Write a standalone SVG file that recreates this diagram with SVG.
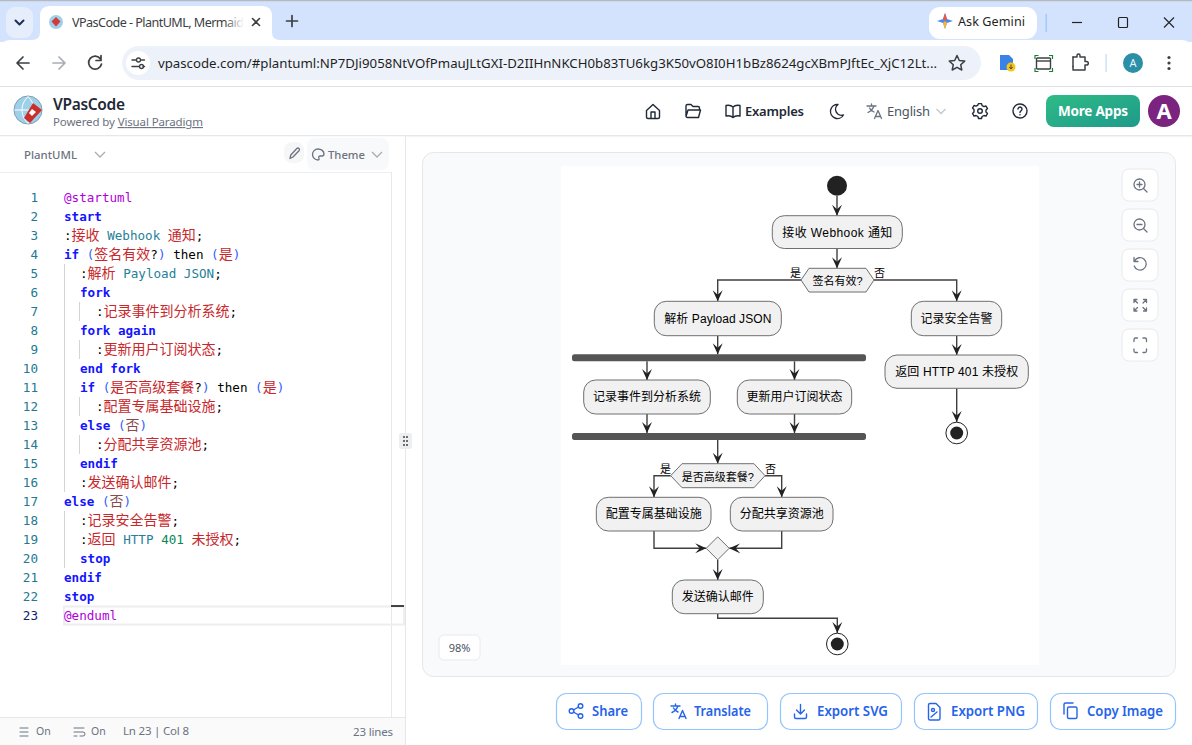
<svg xmlns="http://www.w3.org/2000/svg" width="1192" height="745" viewBox="0 0 1192 745">
<style>
.ui{font-family:"Noto Sans","Open Sans",sans-serif}
.code{font-family:"DejaVu Sans Mono","Noto Sans CJK SC",monospace;font-size:12.6px;fill:#000}
.ln{font-family:"DejaVu Sans Mono",monospace;font-size:12.6px;fill:#237893;text-anchor:end}
.k{fill:#1414ff;font-weight:700}.p{fill:#2f5cff}.r{fill:#c8282c;font-family:"Noto Sans CJK SC",sans-serif;font-size:14px}.g{fill:#8a4a4a;font-family:"Noto Sans CJK SC",sans-serif;font-size:14px}.t{fill:#267f99}.n{fill:#098658}.m{fill:#af00db}
.guide{stroke:#d4d4d4;stroke-width:1;fill:none}
.ic{fill:none;stroke:#3c4043;stroke-width:1.5;stroke-linecap:round;stroke-linejoin:round}
.ih{fill:none;stroke:#1f2937;stroke-width:1.4;stroke-linecap:round;stroke-linejoin:round}
.it{fill:none;stroke:#6b7280;stroke-width:1.3;stroke-linecap:round;stroke-linejoin:round}
.ib{fill:none;stroke:#2563eb;stroke-width:1.4;stroke-linecap:round;stroke-linejoin:round}
.tool{fill:#fff;stroke:#e8eaee;stroke-width:1}
.btn{fill:#fff;stroke:#93c5fd;stroke-width:1.2}
.btxt{font-family:"Noto Sans","Open Sans",sans-serif;font-size:13.5px;font-weight:600;fill:#2563eb}
.act{fill:#f1f1f1;stroke:#6f6f6f;stroke-width:1}
.dt{font-family:"Liberation Sans","Noto Sans CJK SC",sans-serif;font-size:12px;fill:#000;text-anchor:middle}
.ds{font-family:"Liberation Sans","Noto Sans CJK SC",sans-serif;font-size:11px;fill:#000}
.bar{fill:#555}
.con{fill:none;stroke:#3f3f3f;stroke-width:1.4}
.foot{font-family:"Noto Sans",sans-serif;font-size:10.5px;fill:#6b7280}
</style>
<defs>
<marker id="arr" markerUnits="userSpaceOnUse" markerWidth="13" markerHeight="12" refX="11" refY="5.5" orient="auto" viewBox="0 0 13 11"><path d="M0 0.5L11 5.5L0 10.5L4.500 5.500Z" fill="#222"/></marker>
<linearGradient id="ga" x1="0" y1="0" x2="1" y2="1"><stop offset="0" stop-color="#2fbb85"/><stop offset="1" stop-color="#1e9a8c"/></linearGradient>
<linearGradient id="fade" x1="0" x2="1"><stop offset="0" stop-color="#fff" stop-opacity="0"/><stop offset="1" stop-color="#fff"/></linearGradient>
</defs>

<g id="browser-chrome">
<rect width="1192" height="745" fill="#fff"/>
<rect width="1192" height="42" fill="#d3e3fd"/>
<rect width="1192" height="1.2" fill="#b5b8bd"/>
<rect x="6" y="7" width="27" height="31" rx="9" fill="#e6eefc"/>
<path d="M15.500 20.500l4 4 4-4" fill="none" stroke="#1f2f55" stroke-width="2" stroke-linecap="round" stroke-linejoin="round"/>
<path d="M32 40q8 0 8-8V16q0-10 10-10H262q10 0 10 10V32q0 8 8 8Z" fill="#fff"/>
<circle cx="56" cy="22" r="7" fill="#9fd0ea"/><path d="M56 17l4.500 4.500-4.500 5-4.500-5Z" fill="#d23a3a"/>
<text class="ui" x="72" y="27" font-size="12.6" fill="#3c4043" textLength="172">VPasCode - PlantUML, Mermaid</text>
<rect x="224" y="10" width="20" height="24" fill="url(#fade)"/>
<path class="ic" d="M252.500 18.500l7 7M259.500 18.500l-7 7" style="stroke-width:1.600"/>
<path class="ic" d="M292 15.500v11M286.500 21h11" style="stroke-width:1.700"/>
<rect x="929" y="7" width="108" height="32" rx="11" fill="#fff"/>
<path d="M945 13l2 6 6 2-6 2-2 6-2-6-6-2 6-2Z" fill="#4a8af4"/><path d="M945 13l2 6-2 2-2-2Z" fill="#e8594a"/><path d="M945 29l-2-6 2-2 2 2Z" fill="#f5b82e"/>
<text class="ui" x="958" y="26" font-size="12.600" fill="#1f1f1f" textLength="67">Ask Gemini</text>
<rect x="1045.500" y="14" width="1.500" height="18" fill="#a8c7fa"/>
<path d="M1072 22.500h10" fill="none" stroke="#222" stroke-width="1.200"/>
<rect x="1118.500" y="17.500" width="9" height="10" rx="1" fill="none" stroke="#222" stroke-width="1.200"/>
<path d="M1164 17.500l10 10M1174 17.500l-10 10" fill="none" stroke="#222" stroke-width="1.100"/>
<path d="M0 86V50q0-10 10-10H1182q10 0 10 10V86Z" fill="#fff"/>
<rect y="86" width="1192" height="1" fill="#dcdfe3"/>
<path class="ic" d="M29 63H17.500M23 57l-6 6 6 6" style="stroke-width:1.700"/>
<path class="ic" d="M53 63h11.500M59 57l6 6-6 6" style="stroke:#a9adb3;stroke-width:1.700"/>
<path class="ic" d="M100.500 59a6.500 6.500 0 1 0 1 5M101 55.500v5h-5" style="stroke-width:1.700"/>
<rect x="122" y="46" width="859" height="34" rx="17" fill="#edf2fa"/>
<circle cx="138" cy="63" r="12" fill="#fff"/>
<path class="ic" d="M132 60h4M141.500 60h3M132 66.500h7M143 66.500h1.500" style="stroke-width:1.400"/><circle class="ic" cx="138.500" cy="60" r="2" style="stroke-width:1.300"/><circle class="ic" cx="141.500" cy="66.500" r="2" style="stroke-width:1.300"/>
<text class="ui" x="158" y="68" font-size="13.300" fill="#1f1f1f" textLength="779" lengthAdjust="spacingAndGlyphs">vpascode.com/#plantuml:NP7DJi9058NtVOfPmauJLtGXI-D2IIHnNKCH0b83TU6kg3K50vO8I0H1bBz8624gcXBmPJftEc_XjC12Lt...</text>
<path class="ic" d="M957 55.500l2.300 5 5.400.6-4 3.600 1.100 5.300-4.800-2.700-4.800 2.700 1.100-5.300-4-3.600 5.400-.6Z"/>
<path d="M1000 55h9l4 4v11h-13Z" fill="#3b82e8"/><circle cx="1011" cy="67" r="4.500" fill="#f5c518"/><path d="M1011 64.500v4M1009.300 67l1.700 2 1.700-2" fill="none" stroke="#444" stroke-width="1"/>
<rect x="1036.500" y="58" width="14" height="11" rx="1" fill="none" stroke="#3c4043" stroke-width="1.400"/><path d="M1036.500 61h14" stroke="#3c4043" stroke-width="1.400"/><path d="M1035 59v-3.500h3.500M1049 55.500h3.500v3.500M1035 68v3.500h3.500M1049 71.500h3.500V68" fill="none" stroke="#188038" stroke-width="1.200"/>
<path class="ic" d="M1073 57h4v-1.500a1.500 1.500 0 0 1 3 0V57h5v4.500h1.500a1.800 1.800 0 0 1 0 3.600H1085V70h-12v-3.500"/><path class="ic" d="M1073 57v9.500"/>
<rect x="1105.500" y="54" width="1.200" height="18" fill="#c7d7f2"/>
<circle cx="1133" cy="63" r="10" fill="#2b8fa8"/><text class="ui" x="1133" y="67" font-size="11" fill="#e8f6fa" text-anchor="middle">A</text>
<circle cx="1169" cy="57.500" r="1.600" fill="#3c4043"/><circle cx="1169" cy="63" r="1.600" fill="#3c4043"/><circle cx="1169" cy="68.500" r="1.600" fill="#3c4043"/>
</g>

<g id="app-header">
<rect y="87" width="1192" height="48" fill="#fff"/>
<rect y="135" width="1192" height="1.500" fill="#e5e7eb"/>
<circle cx="28" cy="110" r="14" fill="#9fd0ea" stroke="#7f9fb2" stroke-width="1"/>
<path d="M14.500 110h27M28 96.500c-8 8-8 19 0 27M28 96.500c8 8 8 19 0 27" fill="none" stroke="#fff" stroke-width="1"/>
<path d="M33 103l9 7-12 13-6-5Z" fill="#c9302c"/><path d="M32 109l4 3-4 4-3-3Z" fill="#fff"/>
<text class="ui" x="53" y="110" font-size="15.500" font-weight="600" fill="#1f2937" textLength="72">VPasCode</text>
<text class="ui" x="53" y="126" font-size="11.500" fill="#6b7280" textLength="150">Powered by <tspan text-decoration="underline">Visual Paradigm</tspan></text>
<path class="ih" d="M646.500 110.500l6.500-6 6.500 6V117a1.500 1.500 0 0 1-1.500 1.500h-10a1.500 1.500 0 0 1-1.500-1.500ZM651 118.500V112h4v6.500"/>
<path class="ih" d="M686 116.500V106a1.500 1.500 0 0 1 1.500-1.500h3.500l2 2h5a1.500 1.500 0 0 1 1.500 1.500v1.500M686 116.500l2-6.500h12.500l-2 7.500H687.500a1.500 1.500 0 0 1-1.500-1Z"/>
<path class="ih" d="M733 107c-2-2-5-2-7-1.500V116c2-.5 5-.5 7 1.500 2-2 5-2 7-1.500V105.500c-2-.5-5-.5-7 1.500ZM733 107v10"/>
<text class="ui" x="745" y="116" font-size="13" font-weight="600" fill="#1f2937" textLength="59">Examples</text>
<path class="ih" d="M838 104.500a7 7 0 1 0 5.500 10.500 6 6 0 0 1-5.500-10.500Z"/>
<path class="it" d="M867 106h9M871.500 104v2M874 106c-1 3-3 5-6 6.500M869.500 108c1 2 2.500 3 4.500 4M874.500 118.500l3.500-8 3.500 8M875.500 116.500h5"/>
<text class="ui" x="887" y="116" font-size="13" fill="#4b5563" textLength="43">English</text>
<path d="M936.500 109l4.500 4.500 4.500-4.500" fill="none" stroke="#c4c8ce" stroke-width="1.400"/>
<circle class="ih" cx="980" cy="111" r="2.300"/><path class="ih" d="M978.500 104.500h3l.6 2 1.900 1 2-.6 1.500 2.600-1.500 1.500v1.900l1.500 1.500-1.500 2.600-2-.6-1.900 1-.6 2h-3l-.6-2-1.900-1-2 .6-1.500-2.600 1.500-1.500V110.500l-1.500-1.500 1.500-2.600 2 .6 1.900-1Z" transform="translate(0 -.9)"/>
<circle class="ih" cx="1020" cy="111" r="7"/><path class="ih" d="M1018 109a2 2 0 1 1 3 1.800c-.7.500-1 .9-1 1.700M1020 114.800v.1"/>
<rect x="1046" y="95" width="94" height="32" rx="8" fill="url(#ga)"/>
<text class="ui" x="1093" y="116" font-size="13.500" font-weight="700" fill="#fff" text-anchor="middle" textLength="70">More Apps</text>
<circle cx="1164" cy="111" r="16" fill="#7a2480"/><text class="ui" x="1164" y="119" font-size="22" font-weight="700" fill="#fff" text-anchor="middle">A</text>
</g>

<g id="editor-panel">
<rect y="136.500" width="405" height="36" fill="#fff"/>
<rect y="172" width="391" height="1" fill="#eceef1"/>
<text class="ui" x="24" y="159" font-size="11.500" font-weight="500" fill="#6b7280" textLength="53" lengthAdjust="spacingAndGlyphs">PlantUML</text>
<path d="M95 152l5 5 5-5" fill="none" stroke="#a8adb5" stroke-width="1.300"/>
<rect x="284" y="142" width="20" height="21" rx="8" fill="#f5f6f7"/>
<path class="it" d="M290 158.500l.8-3.500 6-6.500a1.500 1.500 0 0 1 2.200 2.200l-6 6.300Z"/>
<rect x="307" y="138" width="82" height="32" rx="8" fill="#f8f9fa"/>
<path class="it" d="M318 149a5.500 5.500 0 1 0 0 11c1.500 0 1.200-1.500.8-2.200-.4-1 .3-1.800 1.500-1.800h1.500c1.500 0 2.200-1 2.200-2 0-3-2.800-5-6-5Z"/>
<text class="ui" x="328" y="159" font-size="11.500" font-weight="500" fill="#6b7280" textLength="37" lengthAdjust="spacingAndGlyphs">Theme</text>
<path d="M372 152l5 5 5-5" fill="none" stroke="#a8adb5" stroke-width="1.300"/>
<rect x="391" y="172" width="1" height="545" fill="#e8e8e8"/>
<rect x="405" y="136" width="1" height="609" fill="#e5e7eb"/>
<rect x="399" y="433" width="13" height="16" rx="2" fill="#eceef0"/>
<path d="M403 437h5M403 441h5M403 445h5" stroke="#444" stroke-width="1.600" stroke-dasharray="2 1"/>
<path class="guide" d="M64.500 264V492M64.500 511V568M79.500 302V321M79.500 340V359M79.500 397V416M79.500 435V454"/>
<rect x="64" y="606.500" width="340" height="18" fill="none" stroke="#eeeeee" stroke-width="2"/>
<rect x="391" y="605" width="13" height="2" fill="#444"/>
<g>
<text class="ln" x="38" y="202">1</text><text class="ln" x="38" y="221">2</text><text class="ln" x="38" y="240">3</text><text class="ln" x="38" y="259">4</text><text class="ln" x="38" y="278">5</text><text class="ln" x="38" y="297">6</text><text class="ln" x="38" y="316">7</text><text class="ln" x="38" y="335">8</text><text class="ln" x="38" y="354">9</text><text class="ln" x="38" y="373">10</text><text class="ln" x="38" y="392">11</text><text class="ln" x="38" y="411">12</text><text class="ln" x="38" y="430">13</text><text class="ln" x="38" y="449">14</text><text class="ln" x="38" y="468">15</text><text class="ln" x="38" y="487">16</text><text class="ln" x="38" y="506">17</text><text class="ln" x="38" y="525">18</text><text class="ln" x="38" y="544">19</text><text class="ln" x="38" y="563">20</text><text class="ln" x="38" y="582">21</text><text class="ln" x="38" y="601">22</text><text class="ln" x="38" y="620" style="fill:#0b216f">23</text>
</g>
<g>
<text class="code" x="64" y="202"><tspan class="m">@startuml</tspan></text>
<text class="code" x="64" y="221"><tspan class="k">start</tspan></text>
<text class="code" x="64" y="240">:<tspan class="r">接收</tspan> <tspan class="t">Webhook</tspan> <tspan class="r">通知</tspan>;</text>
<text class="code" x="64" y="259"><tspan class="k">if</tspan> <tspan class="p">(</tspan><tspan class="r">签名有效</tspan>?<tspan class="p">)</tspan> then <tspan class="p">(</tspan><tspan class="r">是</tspan><tspan class="p">)</tspan></text>
<text class="code" x="80" y="278">:<tspan class="r">解析</tspan> <tspan class="t">Payload JSON</tspan>;</text>
<text class="code" x="80" y="297"><tspan class="k">fork</tspan></text>
<text class="code" x="96" y="316">:<tspan class="r">记录事件到分析系统</tspan>;</text>
<text class="code" x="80" y="335"><tspan class="k">fork again</tspan></text>
<text class="code" x="96" y="354">:<tspan class="r">更新用户订阅状态</tspan>;</text>
<text class="code" x="80" y="373"><tspan class="k">end fork</tspan></text>
<text class="code" x="80" y="392"><tspan class="k">if</tspan> <tspan class="p">(</tspan><tspan class="r">是否高级套餐</tspan>?<tspan class="p">)</tspan> then <tspan class="p">(</tspan><tspan class="r">是</tspan><tspan class="p">)</tspan></text>
<text class="code" x="96" y="411">:<tspan class="r">配置专属基础设施</tspan>;</text>
<text class="code" x="80" y="430"><tspan class="k">else</tspan> <tspan class="p">(</tspan><tspan class="g">否</tspan><tspan class="p">)</tspan></text>
<text class="code" x="96" y="449">:<tspan class="r">分配共享资源池</tspan>;</text>
<text class="code" x="80" y="468"><tspan class="k">endif</tspan></text>
<text class="code" x="80" y="487">:<tspan class="r">发送确认邮件</tspan>;</text>
<text class="code" x="64" y="506"><tspan class="k">else</tspan> <tspan class="p">(</tspan><tspan class="g">否</tspan><tspan class="p">)</tspan></text>
<text class="code" x="80" y="525">:<tspan class="r">记录安全告警</tspan>;</text>
<text class="code" x="80" y="544">:<tspan class="r">返回</tspan> <tspan class="t">HTTP</tspan> <tspan class="n">401</tspan> <tspan class="r">未授权</tspan>;</text>
<text class="code" x="80" y="563"><tspan class="k">stop</tspan></text>
<text class="code" x="64" y="582"><tspan class="k">endif</tspan></text>
<text class="code" x="64" y="601"><tspan class="k">stop</tspan></text>
<text class="code" x="64" y="620"><tspan class="m">@enduml</tspan></text>
</g>
<rect y="717" width="405" height="28" fill="#fafafa"/><rect y="717" width="405" height="1" fill="#e5e7eb"/>
<path class="it" d="M20 728h8M20 732h8M20 736h8" style="stroke-width:1"/>
<text class="foot" x="36" y="735">On</text>
<path class="it" d="M74 728h10M74 732h9a2 2 0 0 1 0 4h-3M74 736h3" style="stroke-width:1"/>
<text class="foot" x="91" y="735">On</text>
<text class="foot" x="123" y="735" style="font-size:11.500px" textLength="66">Ln 23 | Col 8</text>
<text class="foot" x="353" y="736" style="font-size:11.500px" textLength="40">23 lines</text>
</g>

<g id="preview-panel">
<rect x="422.500" y="152.500" width="753" height="524" rx="11" fill="#f9fafc" stroke="#e5e7eb"/>
<rect x="561" y="166" width="478" height="499" fill="#fff"/>
<rect class="tool" x="1122" y="169" width="36" height="32" rx="7"/><circle class="it" cx="1139.500" cy="184.500" r="5.500"/><path class="it" d="M1143.500 188.500l3.500 3.500M1137 184.500h5M1139.500 182v5"/>
<rect class="tool" x="1122" y="209" width="36" height="32" rx="7"/><circle class="it" cx="1139.500" cy="224.500" r="5.500"/><path class="it" d="M1143.500 228.500l3.500 3.500M1137 224.500h5"/>
<rect class="tool" x="1122" y="249" width="36" height="32" rx="7"/><path class="it" d="M1134.500 261a6.200 6.200 0 1 1-.3 5M1134 257.500v4h4"/>
<rect class="tool" x="1122" y="289" width="36" height="32" rx="7"/><path class="it" d="M1134 299.500l3.500 3.500M1134 299.500v3M1134 299.500h3M1146.500 299.500l-3.500 3.500M1146.500 299.500v3M1146.500 299.500h-3M1134 311l3.500-3.500M1134 311v-3M1134 311h3M1146.500 311l-3.500-3.500M1146.500 311v-3M1146.500 311h-3"/>
<rect class="tool" x="1122" y="329" width="36" height="32" rx="7"/><path class="it" d="M1134 341.500v-2a1.500 1.500 0 0 1 1.500-1.500h2M1143 338h2a1.500 1.500 0 0 1 1.500 1.500v2M1146.500 349v2a1.500 1.500 0 0 1-1.500 1.500h-2M1137.500 352.500h-2a1.500 1.500 0 0 1-1.500-1.500v-2"/>
<rect class="tool" x="439" y="635" width="41" height="25" rx="5"/>
<text class="ui" x="459.500" y="652" font-size="11" fill="#4b5563" text-anchor="middle">98%</text>
</g>

<g id="connectors">
<path class="con" marker-end="url(#arr)" d="M837 196V215.700"/>
<path class="con" marker-end="url(#arr)" d="M837 248.300V268.300"/>
<path class="con" marker-end="url(#arr)" d="M801 280H717.700V301.300"/>
<path class="con" marker-end="url(#arr)" d="M874 280H956.700V301.300"/>
<path class="con" marker-end="url(#arr)" d="M717.700 335.700V354.300"/>
<path class="con" marker-end="url(#arr)" d="M647 361.300V380"/>
<path class="con" marker-end="url(#arr)" d="M794.500 361.300V380"/>
<path class="con" marker-end="url(#arr)" d="M647 414V433"/>
<path class="con" marker-end="url(#arr)" d="M794.500 414V433"/>
<path class="con" marker-end="url(#arr)" d="M717.700 440V463.700"/>
<path class="con" marker-end="url(#arr)" d="M670.700 475.700H654V497.300"/>
<path class="con" marker-end="url(#arr)" d="M765 475.700H781.700V497.300"/>
<path class="con" marker-end="url(#arr)" d="M654 531V548.300H706.200"/>
<path class="con" marker-end="url(#arr)" d="M781.700 531V548.300H729.200"/>
<path class="con" marker-end="url(#arr)" d="M717.700 559.800V580"/>
<path class="con" marker-end="url(#arr)" d="M717.700 613.700V618.300H837.300V633"/>
<path class="con" marker-end="url(#arr)" d="M956.700 335.700V355"/>
<path class="con" marker-end="url(#arr)" d="M956.700 388.300V422"/>
</g>

<g id="start"><circle cx="837" cy="185.700" r="10" fill="#222"/></g>
<g id="n-webhook"><rect class="act" x="772.300" y="215.700" width="130" height="32.800" rx="12"/><text class="dt" x="837.300" y="236.500" textLength="110">接收 Webhook 通知</text></g>
<g id="d-signature"><path class="act" d="M801 280L809 268.300H866L874 280L866 292H809Z"/><text class="ds" x="837.500" y="284.500" text-anchor="middle">签名有效?</text><text class="ds" x="790" y="277">是</text><text class="ds" x="874" y="277">否</text></g>
<g id="n-payload"><rect class="act" x="654.300" y="301.300" width="127" height="34.400" rx="12"/><text class="dt" x="717.800" y="322.500" textLength="107">解析 Payload JSON</text></g>
<g id="n-alert"><rect class="act" x="911.300" y="301.300" width="90.400" height="34.400" rx="12"/><text class="dt" x="956.500" y="322.500">记录安全告警</text></g>
<g id="fork-bar"><rect class="bar" x="572" y="354.300" width="294" height="7" rx="2.500"/></g>
<g id="n-401"><rect class="act" x="885" y="355" width="143.300" height="33.300" rx="12"/><text class="dt" x="956.700" y="376" textLength="123">返回 HTTP 401 未授权</text></g>
<g id="n-analytics"><rect class="act" x="583.700" y="380" width="126.600" height="34" rx="12"/><text class="dt" x="647" y="401">记录事件到分析系统</text></g>
<g id="n-subscription"><rect class="act" x="737.300" y="380" width="114.400" height="34" rx="12"/><text class="dt" x="794.500" y="401">更新用户订阅状态</text></g>
<g id="join-bar"><rect class="bar" x="572" y="433" width="294" height="7" rx="2.500"/></g>
<g id="end-right"><circle cx="956.700" cy="433" r="10.800" fill="#fff" stroke="#222" stroke-width="1"/><circle cx="956.700" cy="433" r="6.500" fill="#222"/></g>
<g id="d-plan"><path class="act" d="M670.700 475.700L682 463.700H754L765 475.700L754 487.700H682Z"/><text class="ds" x="717.800" y="480.500" text-anchor="middle">是否高级套餐?</text><text class="ds" x="660" y="473">是</text><text class="ds" x="765" y="473">否</text></g>
<g id="n-dedicated"><rect class="act" x="596.300" y="497.300" width="114.700" height="33.700" rx="12"/><text class="dt" x="653.700" y="518">配置专属基础设施</text></g>
<g id="n-shared"><rect class="act" x="730.300" y="497.300" width="102.700" height="33.700" rx="12"/><text class="dt" x="781.700" y="518">分配共享资源池</text></g>
<g id="merge"><path class="act" d="M717.700 536.800L729.200 548.300L717.700 559.800L706.200 548.300Z"/></g>
<g id="n-email"><rect class="act" x="672.300" y="580" width="91" height="33.700" rx="12"/><text class="dt" x="717.800" y="601">发送确认邮件</text></g>
<g id="end-main"><circle cx="837.300" cy="644" r="10.800" fill="#fff" stroke="#222" stroke-width="1"/><circle cx="837.300" cy="644" r="6.500" fill="#222"/></g>

<g id="actions">
<rect class="btn" x="556.500" y="693.500" width="85" height="36" rx="10"/>
<circle class="ib" cx="571.500" cy="711" r="2.300"/><circle class="ib" cx="580.500" cy="706" r="2.300"/><circle class="ib" cx="580.500" cy="716" r="2.300"/><path class="ib" d="M573.500 710l5-3M573.500 712l5 3"/>
<text class="btxt" x="592" y="716" textLength="36" lengthAdjust="spacingAndGlyphs">Share</text>
<rect class="btn" x="653.500" y="693.500" width="114" height="36" rx="10"/>
<path class="ib" d="M671 706h9M675.500 704v2M678 706c-1 3-3 5-6 6.500M673.500 708c1 2 2.500 3 4.500 4M679 718.500l3.500-8 3.500 8M680 716.500h5"/>
<text class="btxt" x="694" y="716" textLength="57" lengthAdjust="spacingAndGlyphs">Translate</text>
<rect class="btn" x="780.500" y="693.500" width="121" height="36" rx="10"/>
<path class="ib" d="M800.500 704.500v9M796.500 710l4 4 4-4M794.500 714v3a1.500 1.500 0 0 0 1.500 1.500h9a1.500 1.500 0 0 0 1.500-1.500v-3"/>
<text class="btxt" x="817" y="716" textLength="71" lengthAdjust="spacingAndGlyphs">Export SVG</text>
<rect class="btn" x="914.500" y="693.500" width="123" height="36" rx="10"/>
<path class="ib" d="M930 703.500h6l4 4v11a1.500 1.500 0 0 1-1.500 1.500H930a1.500 1.500 0 0 1-1.500-1.500V705a1.500 1.500 0 0 1 1.500-1.500ZM931 717l6-5"/><circle class="ib" cx="933" cy="710" r="1.500"/>
<text class="btxt" x="951" y="716" textLength="74" lengthAdjust="spacingAndGlyphs">Export PNG</text>
<rect class="btn" x="1050.500" y="693.500" width="125" height="36" rx="10"/>
<rect class="ib" x="1067.500" y="707" width="9.500" height="11.500" rx="1.500"/><path class="ib" d="M1064 714v-9.500a1.500 1.500 0 0 1 1.500-1.500H1073"/>
<text class="btxt" x="1087" y="716" textLength="76" lengthAdjust="spacingAndGlyphs">Copy Image</text>
</g>
</svg>
